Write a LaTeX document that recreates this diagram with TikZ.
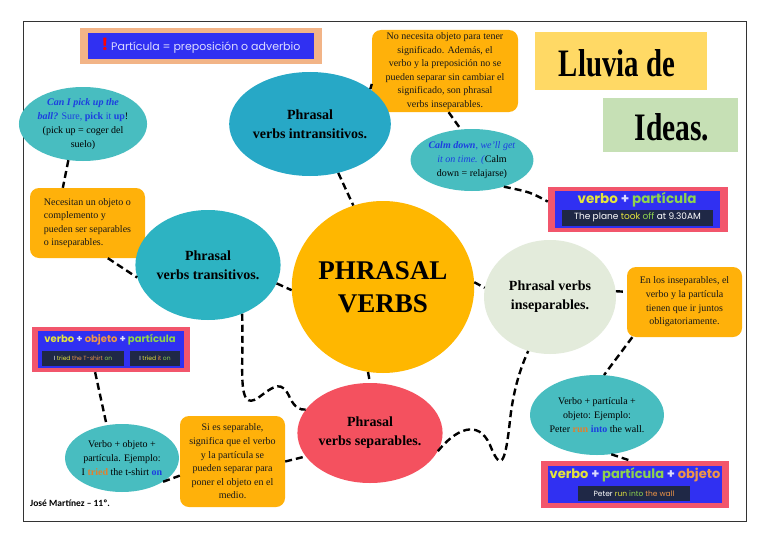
\documentclass[tikz,border=0pt]{standalone}
\usepackage{fontspec}
\setmainfont{Liberation Serif}
\newfontfamily\gothic{Poppins}
\newfontfamily\carl{Carlito}
\usetikzlibrary{shapes.geometric}
\definecolor{tealA}{HTML}{27A8C6}
\definecolor{tealB}{HTML}{2DB3C2}
\definecolor{tealS}{HTML}{48BDC0}
\definecolor{goldC}{HTML}{FFB700}
\definecolor{orangeB}{HTML}{FFB10A}
\definecolor{paleG}{HTML}{E3EBDB}
\definecolor{redC}{HTML}{F4515F}
\definecolor{banRed}{HTML}{F2566C}
\definecolor{banBlue}{HTML}{3030F2}
\definecolor{peach}{HTML}{F2B487}
\definecolor{darkB}{HTML}{1F2846}
\definecolor{vyel}{HTML}{E4E43C}
\definecolor{vgrn}{HTML}{8ED34E}
\definecolor{vorg}{HTML}{EF9547}
\definecolor{lav}{HTML}{DCDCFF}
\definecolor{titleY}{HTML}{FFD965}
\definecolor{titleG}{HTML}{C6E0B5}
\definecolor{txtBlue}{HTML}{1C3EE0}
\definecolor{exOrg}{HTML}{E0802F}
\begin{document}
\begin{tikzpicture}[x=1pt,y=-1pt,
  conn/.style={line width=2.4pt, dash pattern=on 7pt off 4pt, black},
  obox/.style={fill=orangeB, rounded corners=9pt, inner sep=0pt, align=center, text=black!90, font=\fontsize{10}{13.6}\selectfont},
  bubble/.style={ellipse, inner sep=0pt, align=center},
  smallbub/.style={bubble, fill=tealS, font=\fontsize{10}{14}\selectfont},
  bigbub/.style={bubble, font=\bfseries\fontsize{14}{19}\selectfont},
  outerban/.style={fill=banRed, inner sep=0pt},
  innerban/.style={fill=banBlue, inner sep=0pt},
  darkbox/.style={fill=darkB, inner sep=0pt, text=white},
  title/.style={inner sep=0pt, font=\bfseries\fontsize{36}{36}\selectfont}]
\useasboundingbox (0,0) rectangle (768,543);
\fill[white] (0,0) rectangle (768,543);
\draw[black!80, line width=1pt] (23,22) rectangle (746,521);

% top-left banner
\node[fill=peach, minimum width=242, minimum height=36, inner sep=0pt] (pban) at (201,46) {};
\node[fill=banBlue, minimum width=226, minimum height=26, inner sep=0pt, text=lav, font=\gothic\fontsize{11}{12}\selectfont] (pbanin) at (201,46) {\textcolor{red}{\bfseries\fontsize{17}{17}\selectfont !}\ Partícula = preposición o adverbio};

% title boxes
\node[fill=titleY, minimum width=172, minimum height=58, inner sep=0pt] (lluvia) at (621,61) {};
\node[title] (lluviat) at (617,63) {\scalebox{0.8}[1.08]{Lluvia de}};
\node[fill=titleG, minimum width=135, minimum height=54, inner sep=0pt] (ideas) at (670.5,125) {};
\node[title] (ideast) at (672,127) {\scalebox{0.82}[1.08]{Ideas.}};

% orange boxes
\node[obox, minimum width=146, minimum height=82] (tbox) at (445,71) {No necesita objeto para tener\\significado. Además, el\\verbo y la preposición no se\\pueden separar sin cambiar el\\significado, son phrasal\\verbs inseparables.};
\node[obox, minimum width=115, minimum height=70, align=left] (lbox) at (87.5,223) {Necesitan un objeto o\\complemento y\\pueden ser separables\\o inseparables.};
\node[obox, minimum width=115, minimum height=70] (rbox) at (684.5,302) {En los inseparables, el\\verbo y la partícula\\tienen que ir juntos\\obligatoriamente.};
\node[obox, minimum width=105, minimum height=91] (bbox) at (232.5,461.5) {Si es separable,\\significa que el verbo\\y la partícula se\\pueden separar para\\poner el objeto en el\\medio.};

% big bubbles
\node[bigbub, fill=tealA, minimum width=144, minimum height=104] (intr) at (310,124) {Phrasal\\verbs intransitivos.};
\node[bigbub, fill=tealB, minimum width=124, minimum height=110] (trans) at (208,265) {Phrasal\\verbs transitivos.};
\node[bubble, fill=goldC, minimum width=182, minimum height=172, font=\bfseries\fontsize{27}{33}\selectfont] (center) at (383,287) {PHRASAL\\VERBS};
\node[bigbub, fill=paleG, minimum width=132, minimum height=114] (insep) at (550,297) {Phrasal verbs\\inseparables.};
\node[bigbub, fill=redC, minimum width=140, minimum height=100] (sep) at (370,433) {Phrasal\\verbs separables.};

% small bubbles
\node[smallbub, minimum width=106, minimum height=74] (pick) at (83,124) {\textcolor{txtBlue}{\textbf{\textit{Can I pick up the}}}\\\textcolor{txtBlue}{\textbf{\textit{ball?}} Sure, \textbf{pick} it \textbf{up}}!\\(pick up = coger del\\suelo)};
\node[smallbub, minimum width=114, minimum height=62] (calm) at (472,160) {\textcolor{txtBlue}{\textbf{\textit{Calm down}}, \textit{we'll get}}\\\textcolor{txtBlue}{\textit{it on time. (}}Calm\\down = relajarse)};
\node[smallbub, minimum width=112, minimum height=68] (blell) at (122,458) {Verbo + objeto +\\partícula. Ejemplo:\\I \textcolor{exOrg}{\textbf{tried}} the t-shirt \textcolor{txtBlue}{\textbf{on}}};
\node[smallbub, minimum width=120, minimum height=80] (rell) at (597,415) {Verbo + partícula +\\objeto: Ejemplo:\\Peter \textcolor{exOrg}{\textbf{run}} \textcolor{txtBlue}{\textbf{into}} the wall.};

% banners
\node[outerban, minimum width=180, minimum height=45] (vban) at (638,209.5) {};
\node[innerban, minimum width=165, minimum height=37] (vbanin) at (637.5,209.5) {};
\node[inner sep=0pt, font=\gothic\bfseries\fontsize{13.5}{13}\selectfont] (vbanh) at (637,199.5) {\textcolor{vyel}{verbo} \textcolor{lav}{+} \textcolor{vgrn}{partícula}};
\node[darkbox, minimum width=151, minimum height=16, font=\gothic\fontsize{9}{9}\selectfont] (vbandk) at (637.5,217.5) {The plane \textcolor{vyel}{took} \textcolor{vgrn}{off} at 9.30AM};

\node[outerban, minimum width=158, minimum height=45] (lban) at (111,349.5) {};
\node[innerban, minimum width=146, minimum height=37] (lbanin) at (111,349.5) {};
\node[inner sep=0pt, font=\gothic\bfseries\fontsize{10}{10}\selectfont] (lbanh) at (110,340) {\textcolor{vyel}{verbo} \textcolor{lav}{+} \textcolor{vorg}{objeto} \textcolor{lav}{+} \textcolor{vgrn}{partícula}};
\node[darkbox, minimum width=82, minimum height=15, font=\gothic\fontsize{6}{6}\selectfont] (lbandk1) at (83,358.5) {I \textcolor{vyel}{tried} \textcolor{vorg}{the T-shirt} \textcolor{vgrn}{on}};
\node[darkbox, minimum width=50, minimum height=15, font=\gothic\fontsize{6}{6}\selectfont] (lbandk2) at (155,358.5) {I \textcolor{vyel}{tried} \textcolor{vorg}{it} \textcolor{vgrn}{on}};

\node[outerban, minimum width=188, minimum height=47] (bban) at (635,484.5) {};
\node[innerban, minimum width=174, minimum height=37] (bbanin) at (635,484.5) {};
\node[inner sep=0pt, font=\gothic\bfseries\fontsize{13}{13}\selectfont] (bbanh) at (635,475) {\textcolor{vyel}{verbo} \textcolor{lav}{+} \textcolor{vgrn}{partícula} \textcolor{lav}{+} \textcolor{vorg}{objeto}};
\node[darkbox, minimum width=112, minimum height=15, font=\gothic\fontsize{7.5}{7.5}\selectfont] (bbandk) at (634,493.5) {Peter \textcolor{vyel}{run} \textcolor{vgrn}{into} \textcolor{vorg}{the wall}};

% author
\node[anchor=west, inner sep=0pt, font=\carl\bfseries\fontsize{9.5}{10}\selectfont] (author) at (30,503) {José Martínez – 11º.};

% connectors
\draw[conn] (intr.30) -- (tbox.190);
\draw[conn] (intr.-60) -- (center.110);
\draw[conn] (tbox.-85) -- (calm.110);
\draw[conn] (calm.-40) .. controls (530,192) .. (vban.175);
\draw[conn] (pick.-112) -- (lbox.125);
\draw[conn] (lbox.-60) -- (trans.190);
\draw[conn] (trans.-15) -- (center.182);
\draw[conn] (lban.-125) -- (blell.115);
\draw[conn] (blell.-30) -- (bbox.195);
\draw[conn] (bbox.0) -- (sep.200);
\draw[conn] (trans.-55) .. controls (244,370) and (236,412) .. (258,398) .. controls (275,385) and (282,380) .. (290,398) .. controls (295,408) and (300,410) .. (sep.160);
\draw[conn] (center.-100) -- (sep.90);
\draw[conn] (sep.-15) .. controls (455,430) and (478,418) .. (490,445) .. controls (500,470) and (505,468) .. (510,420) .. controls (514,385) and (522,365) .. (insep.-112);
\draw[conn] (center.3) -- (insep.172);
\draw[conn] (insep.5) -- (rbox.170);
\draw[conn] (rbox.-146) -- (rell.80);
\draw[conn] (rell.-70) -- (bban.100);
\end{tikzpicture}
\end{document}
